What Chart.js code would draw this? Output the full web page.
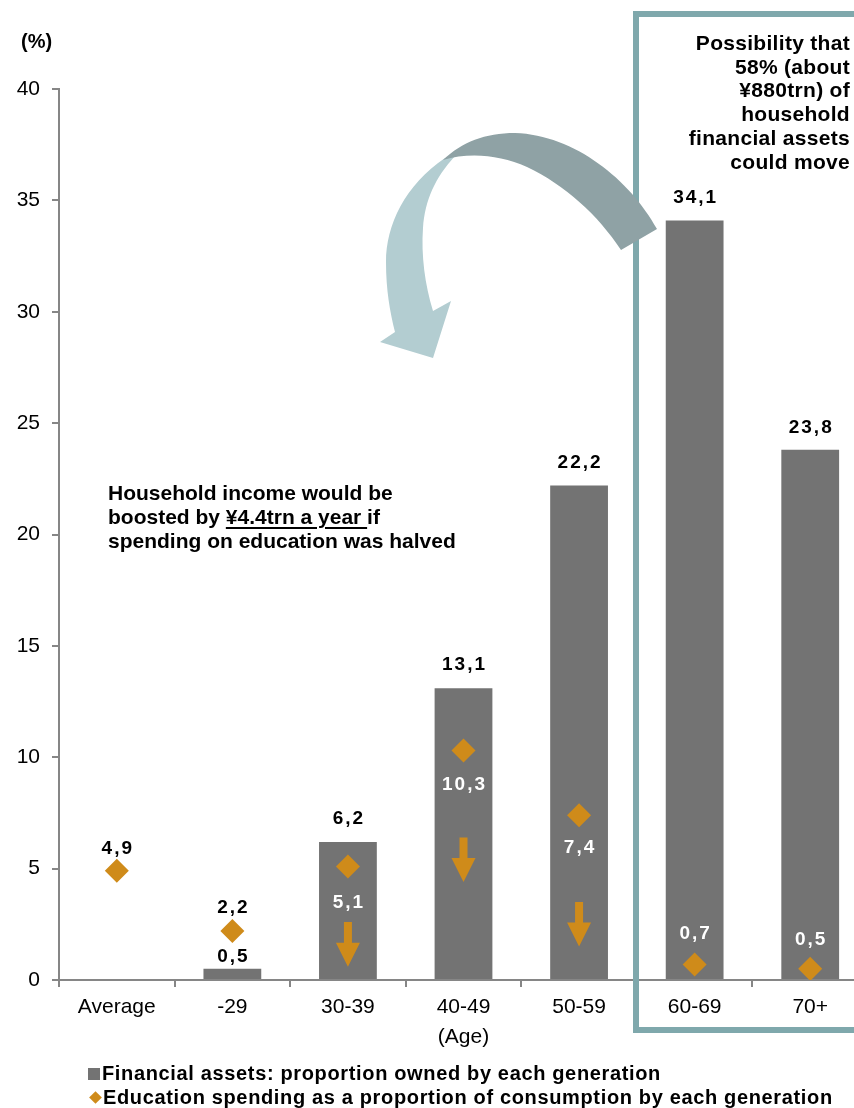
<!DOCTYPE html>
<html>
<head>
<meta charset="utf-8">
<script src="https://cdn.jsdelivr.net/npm/chart.js@4/dist/chart.umd.min.js"></script>
<style>
  body { margin: 0; width: 854px; height: 1108px; overflow: hidden; position: relative; background: #fff;
         font-family: "Liberation Sans", Arial, sans-serif; color: #000; }
  #wrap { position: absolute; left: 0; top: 0; }
  .txt { position: absolute; font-weight: bold; white-space: nowrap; }
  #unit { left: 21px; top: 30px; font-size: 20px; }
  #note { left: 108px; top: 481px; font-size: 21px; line-height: 24px; }
  #note u { text-decoration-thickness: 2px; text-underline-offset: 3px; }
  #boxnote { right: 4px; top: 31px; font-size: 21px; letter-spacing: 0.3px; line-height: 23.7px; text-align: right; }
  .leg { left: 88px; font-size: 20px; letter-spacing: 0.65px; display: flex; align-items: center; }
  .sq { width: 12px; height: 12px; background: #737373; margin-right: 2px; }
  .dm { width: 9px; height: 9px; background: #cf8b1a; transform: rotate(45deg); margin: 0 3px 0 3px; }
</style>
</head>
<body>
<div id="wrap"><canvas id="chart" width="880" height="1108"></canvas></div>
<div class="txt" id="unit">(%)</div>
<div class="txt" id="note">Household income would be<br>boosted by <u>¥4.4trn a year </u>if<br>spending on education was halved</div>
<div class="txt" id="boxnote">Possibility that<br>58% (about<br>¥880trn) of<br>household<br>financial assets<br>could move</div>
<div class="txt leg" style="top:1062px"><span class="sq"></span>Financial assets: proportion owned by each generation</div>
<div class="txt leg" style="top:1086px"><span class="dm"></span>Education spending as a proportion of consumption by each generation</div>
<script>
const categories = ['Average', '-29', '30-39', '40-49', '50-59', '60-69', '70+'];
const financialAssets = [null, 0.5, 6.2, 13.1, 22.2, 34.1, 23.8];
const educationSpending = [4.9, 2.2, 5.1, 10.3, 7.4, 0.7, 0.5];

const barColor = '#737373';
const eduColor = '#cf8b1a';
const boxColor = '#7fa8ac';

const fmt = v => v.toFixed(1).replace('.', ',');

// value labels for both series
const valueLabels = {
    id: 'valueLabels',
    afterDatasetsDraw(chart, args, opts) {
        const ctx = chart.ctx;
        ctx.save();
        ctx.font = 'bold 19px "Liberation Sans", Arial, sans-serif';
        ctx.letterSpacing = '2px';
        ctx.textAlign = 'center';
        ctx.textBaseline = 'middle';
        chart.getDatasetMeta(0).data.forEach((bar, i) => {
            const v = financialAssets[i];
            if (v == null) return;
            ctx.fillStyle = '#000';
            ctx.fillText(fmt(v), bar.x + 1, bar.y - opts.barOffset[i]);
        });
        chart.getDatasetMeta(1).data.forEach((pt, i) => {
            ctx.fillStyle = opts.eduTextColor[i];
            ctx.fillText(fmt(educationSpending[i]), pt.x + 1, pt.y + opts.eduOffset[i]);
        });
        ctx.restore();
    }
};

// small orange "decrease" arrows inside the bars
const downArrows = {
    id: 'downArrows',
    afterDatasetsDraw(chart, args, opts) {
        const ctx = chart.ctx;
        const xs = chart.scales.x, ys = chart.scales.y;
        ctx.save();
        ctx.fillStyle = eduColor;
        opts.arrows.forEach(a => {
            const x = xs.getPixelForValue(a.index);
            const y1 = ys.getPixelForValue(a.from);
            const y2 = ys.getPixelForValue(a.to);
            const head = 24;
            ctx.beginPath();
            ctx.moveTo(x - 4, y1);
            ctx.lineTo(x + 4, y1);
            ctx.lineTo(x + 4, y2 - head);
            ctx.lineTo(x + 12, y2 - head);
            ctx.lineTo(x, y2);
            ctx.lineTo(x - 12, y2 - head);
            ctx.lineTo(x - 4, y2 - head);
            ctx.closePath();
            ctx.fill();
        });
        ctx.restore();
    }
};

// frame around the older generations and the curved transfer arrow
const decorations = {
    id: 'decorations',
    afterDraw(chart) {
        const ctx = chart.ctx;
        ctx.save();
        ctx.strokeStyle = boxColor;
        ctx.lineWidth = 6;
        ctx.strokeRect(636, 14, 300, 1016);

        // light part, down to the arrow head
        ctx.fillStyle = '#b3cdd1';
        ctx.beginPath();
        ctx.moveTo(445, 158);
        ctx.bezierCurveTo(405, 185, 386, 225, 386, 262);
        ctx.bezierCurveTo(386, 290, 390, 312, 395, 332);
        ctx.lineTo(380, 342);
        ctx.lineTo(433, 358);
        ctx.lineTo(451, 301);
        ctx.lineTo(433, 311);
        ctx.bezierCurveTo(425, 285, 421, 255, 423, 228);
        ctx.bezierCurveTo(425, 200, 435, 178, 455, 156);
        ctx.closePath();
        ctx.fill();

        // dark part, from the frame up and over
        ctx.fillStyle = '#8fa2a5';
        ctx.beginPath();
        ctx.moveTo(657, 229);
        ctx.bezierCurveTo(630, 180, 575, 135, 515, 133);
        ctx.bezierCurveTo(485, 133, 462, 142, 443, 160);
        ctx.bezierCurveTo(470, 152, 500, 155, 527, 167);
        ctx.bezierCurveTo(565, 185, 598, 215, 621, 250);
        ctx.closePath();
        ctx.fill();
        ctx.restore();
    }
};

new Chart(document.getElementById('chart'), {
    type: 'bar',
    data: {
        labels: categories,
        datasets: [
            {
                label: 'Financial assets: proportion owned by each generation',
                data: financialAssets,
                backgroundColor: barColor,
                barPercentage: 0.5,
                categoryPercentage: 1.0,
                order: 2
            },
            {
                type: 'line',
                label: 'Education spending as a proportion of consumption by each generation',
                data: educationSpending,
                showLine: false,
                pointStyle: 'rectRot',
                pointRadius: 12,
                pointBackgroundColor: eduColor,
                pointBorderColor: eduColor,
                pointBorderWidth: 0,
                order: 1
            }
        ]
    },
    options: {
        responsive: false,
        animation: false,
        layout: { padding: { left: 0, right: 9, top: 89, bottom: 58 } },
        scales: {
            x: {
                afterFit: s => { s.height = 70; },
                grid: { drawOnChartArea: false, drawTicks: true, tickLength: 7, color: '#868686', lineWidth: 2, offset: true },
                border: { color: '#868686', width: 2 },
                ticks: { color: '#000', padding: 8, font: { size: 21, family: '"Liberation Sans", Arial, sans-serif' } },
                title: { display: true, text: '(Age)', color: '#000', padding: { top: 0, bottom: 0 },
                         font: { size: 21, family: '"Liberation Sans", Arial, sans-serif' } }
            },
            y: {
                min: 0,
                max: 40,
                afterFit: s => { s.width = 59; },
                grid: { drawOnChartArea: false, drawTicks: true, tickLength: 7, color: '#868686', lineWidth: 2 },
                border: { color: '#868686', width: 2 },
                ticks: { stepSize: 5, color: '#000', padding: 12, font: { size: 21, family: '"Liberation Sans", Arial, sans-serif' } }
            }
        },
        plugins: {
            legend: { display: false },
            tooltip: { enabled: false },
            valueLabels: {
                barOffset: [0, 12, 23, 23, 23, 23, 22],
                eduOffset: [-22, -23, 36, 34, 33, -31, -29],
                eduTextColor: ['#000', '#000', '#fff', '#fff', '#fff', '#fff', '#fff']
            },
            downArrows: {
                arrows: [
                    { index: 2, from: 2.6, to: 0.6 },
                    { index: 3, from: 6.4, to: 4.4 },
                    { index: 4, from: 3.5, to: 1.5 }
                ]
            }
        }
    },
    plugins: [valueLabels, downArrows, decorations]
});
</script>
</body>
</html>
